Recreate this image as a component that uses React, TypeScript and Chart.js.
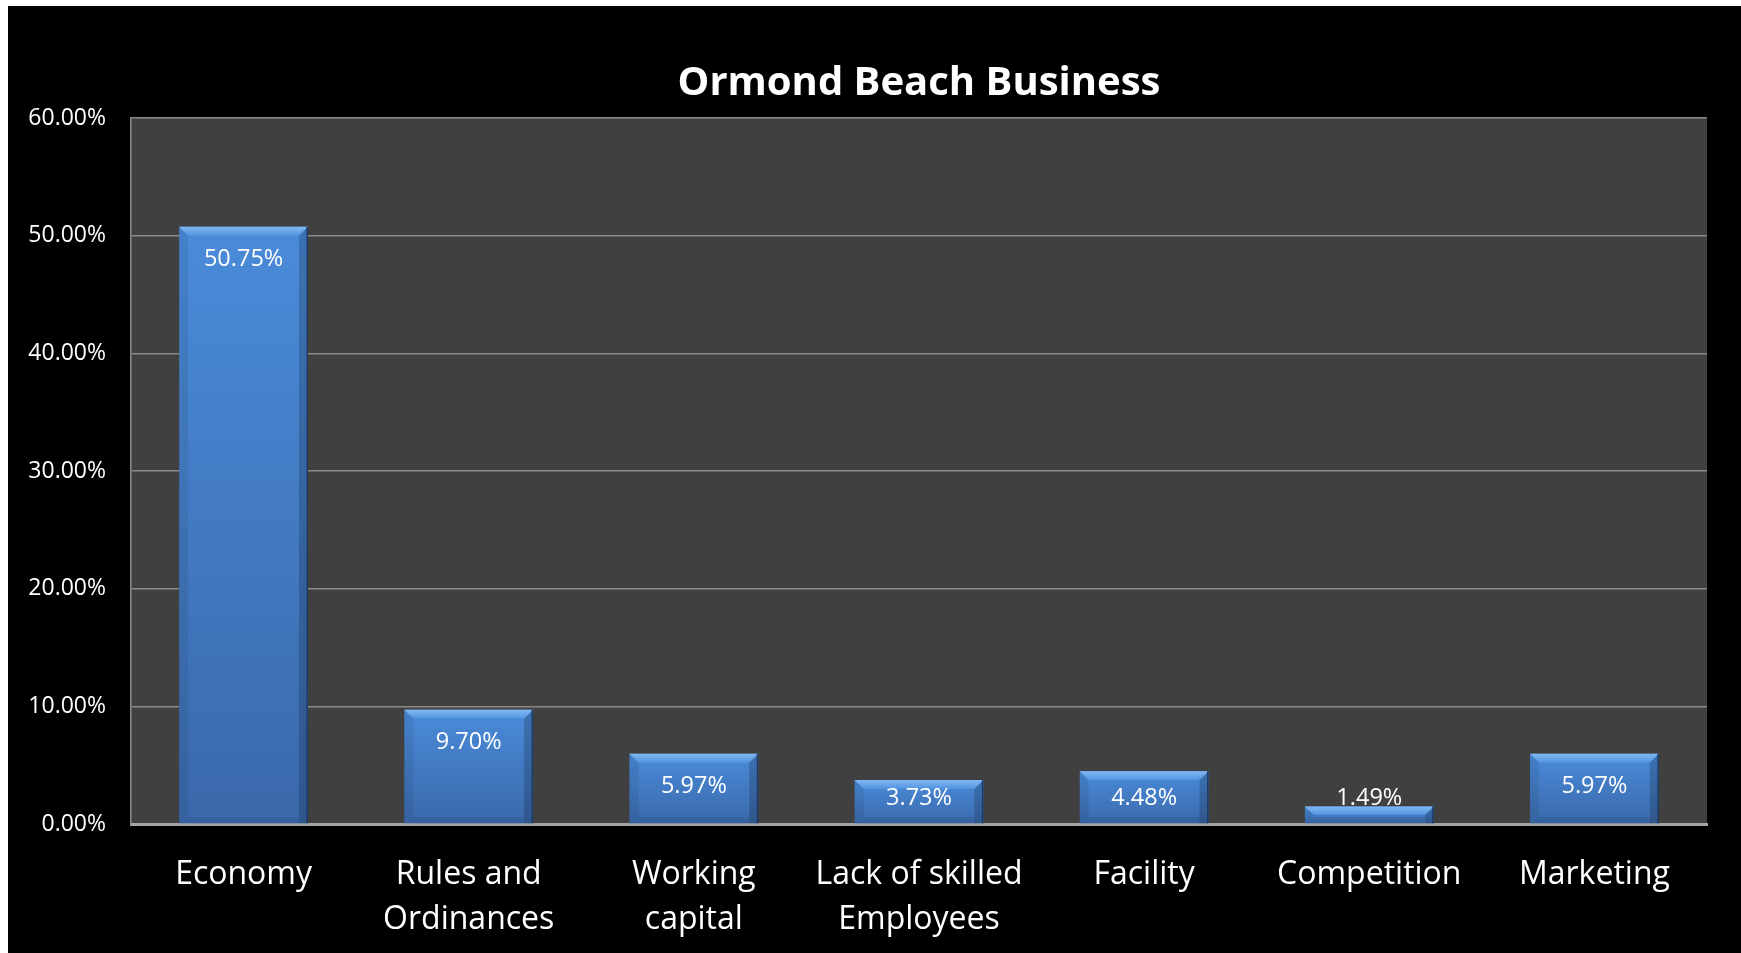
import React, { useEffect, useRef } from "react";
import { Chart, registerables } from "chart.js";

Chart.register(...registerables);

const TITLE = "Ormond Beach Business";
const categories: (string | string[])[] = [
  "Economy",
  ["Rules and", "Ordinances"],
  ["Working", "capital"],
  ["Lack of skilled", "Employees"],
  "Facility",
  "Competition",
  "Marketing",
];
const shares = [50.75, 9.7, 5.97, 3.73, 4.48, 1.49, 5.97];
const yMin = 0;
const yMax = 60;
const yStep = 10;

const FONT = "'Open Sans', 'Noto Sans', sans-serif";

const plotBgPlugin = {
  id: "plotBg",
  beforeDraw(chart: any) {
    const { ctx, chartArea } = chart;
    if (!chartArea) return;
    ctx.save();
    ctx.fillStyle = "#404040";
    ctx.fillRect(chartArea.left, chartArea.top, chartArea.right - chartArea.left, chartArea.bottom - chartArea.top);
    ctx.restore();
  },
};

const bevelPlugin = {
  id: "bevel",
  afterDatasetsDraw(chart: any) {
    const { ctx } = chart;
    const meta = chart.getDatasetMeta(0);
    const data = chart.data.datasets[0].data as number[];
    ctx.save();
    meta.data.forEach((bar: any, i: number) => {
      const { x, y, base, width } = bar.getProps(["x", "y", "base", "width"], true);
      const left = x - width / 2;
      const right = x + width / 2;
      const top = y;
      const bottom = base;
      const b = Math.min(9, (bottom - top) / 2);
      // top bevel
      const g = ctx.createLinearGradient(0, top, 0, top + b);
      g.addColorStop(0, "#82b8f2");
      g.addColorStop(1, "#5093df");
      ctx.fillStyle = g;
      ctx.beginPath();
      ctx.moveTo(left, top);
      ctx.lineTo(right, top);
      ctx.lineTo(right - b, top + b);
      ctx.lineTo(left + b, top + b);
      ctx.closePath();
      ctx.fill();
      // left bevel
      ctx.fillStyle = "rgba(0,0,0,0.07)";
      ctx.beginPath();
      ctx.moveTo(left, top);
      ctx.lineTo(left + b, top + b);
      ctx.lineTo(left + b, bottom);
      ctx.lineTo(left, bottom);
      ctx.closePath();
      ctx.fill();
      // right bevel
      ctx.fillStyle = "rgba(0,0,0,0.18)";
      ctx.beginPath();
      ctx.moveTo(right, top);
      ctx.lineTo(right - b, top + b);
      ctx.lineTo(right - b, bottom);
      ctx.lineTo(right, bottom);
      ctx.closePath();
      ctx.fill();
      // bottom shade
      ctx.fillStyle = "rgba(0,0,0,0.08)";
      ctx.fillRect(left + b, bottom - Math.min(6, b), right - left - 2 * b, Math.min(6, b));
      // dark right edge
      ctx.strokeStyle = "#1d3b66";
      ctx.lineWidth = 1.5;
      ctx.beginPath();
      ctx.moveTo(right - 0.75, top);
      ctx.lineTo(right - 0.75, bottom);
      ctx.stroke();

      // value label
      const v = data[i];
      const baseline = Math.min(top + 39, bottom - 18);
      ctx.fillStyle = "#ffffff";
      ctx.font = `23.5px ${FONT}`;
      ctx.textAlign = "center";
      ctx.textBaseline = "alphabetic";
      ctx.fillText(v.toFixed(2) + "%", x, baseline);
    });
    ctx.restore();
  },
};

export default function App() {
  const ref = useRef<HTMLCanvasElement | null>(null);

  useEffect(() => {
    if (!ref.current) return;
    const chart = new Chart(ref.current, {
      type: "bar",
      data: {
        labels: categories,
        datasets: [
          {
            data: shares,
            backgroundColor: (c: any) => {
              const ch = c.chart;
              if (!ch.chartArea || c.raw == null) return "#4180cf";
              const yScale = ch.scales.y;
              const top = yScale.getPixelForValue(c.raw);
              const bot = yScale.getPixelForValue(0);
              const g = ch.ctx.createLinearGradient(0, top, 0, bot);
              g.addColorStop(0, "#4a8bd9");
              g.addColorStop(1, "#3a69ab");
              return g;
            },
            borderWidth: 0,
            barPercentage: 0.572,
            categoryPercentage: 1,
          },
        ],
      },
      options: {
        responsive: false,
        animation: false,
        layout: { padding: { left: 0, right: 34, top: 0, bottom: 0 } },
        plugins: {
          legend: { display: false },
          tooltip: { enabled: false },
          title: {
            display: true,
            text: TITLE,
            color: "#ffffff",
            fullSize: false,
            font: { family: FONT, size: 40, weight: "bold", lineHeight: 1.2 },
            padding: { top: 54, bottom: 10 },
          },
        },
        scales: {
          x: {
            type: "category",
            grid: { display: false, drawTicks: false },
            border: { display: true, color: "#a3a3a3", width: 3 },
            ticks: {
              color: "#ffffff",
              padding: 28,
              maxRotation: 0,
              autoSkip: false,
              font: { family: FONT, size: 32, lineHeight: 1.41 },
            },
            afterFit: (s: any) => {
              s.height = 129;
            },
          },
          y: {
            min: yMin,
            max: yMax,
            grid: { color: "#8a8a8a", lineWidth: 1.5, drawTicks: false },
            border: { display: true, color: "#8a8a8a", width: 1.5 },
            ticks: {
              stepSize: yStep,
              color: "#ffffff",
              padding: 25,
              font: { family: FONT, size: 23 },
              callback: (v: any) => Number(v).toFixed(2) + "%",
            },
            afterFit: (s: any) => {
              s.width = 123;
            },
          },
        },
      },
      plugins: [plotBgPlugin, bevelPlugin],
    } as any);
    return () => chart.destroy();
  }, []);

  return (
    <div
      style={{
        position: "absolute",
        left: 8,
        top: 6,
        width: 1733,
        height: 947,
        background: "#000000",
      }}
    >
      <canvas ref={ref} width={1733} height={947} style={{ display: "block" }} />
    </div>
  );
}
